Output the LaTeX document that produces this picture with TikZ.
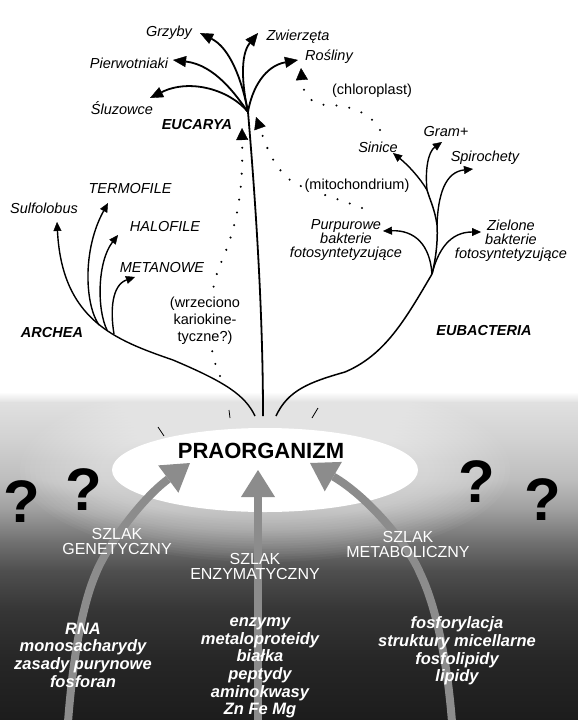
\documentclass[tikz,border=0pt]{standalone}
\usepackage{fontspec}
\setmainfont{Liberation Sans}
\usetikzlibrary{arrows.meta,shapes.geometric}
\definecolor{agray}{gray}{0.55}
\begin{document}
\begin{tikzpicture}[x=1pt,y=-1pt,
  lbl/.style={font=\fontsize{14.5}{14}\selectfont\itshape, inner sep=0pt, align=center},
  grp/.style={font=\fontsize{14.5}{15}\selectfont\bfseries\itshape, inner sep=0pt},
  paren/.style={font=\fontsize{14.5}{17}\selectfont, inner sep=1pt, align=center, fill=white},
  stem/.style={line width=1.5pt},
  euk/.style={line width=1.8pt, -{Triangle[length=13pt,width=11pt,line width=0.4pt]}},
  brn/.style={line width=1.4pt, -{Triangle[length=9pt,width=8pt,line width=0.4pt]}},
  dotln/.style={line width=2.3pt, line cap=round, dash pattern=on 0pt off 13pt, -{Triangle[length=12pt,width=12pt,line width=0.4pt]}},
  garrow/.style={draw=agray, line width=8pt, -{Triangle[length=27pt,width=34pt,line width=0pt]}},
  szlak/.style={text=white, font=\fontsize{16}{15}\selectfont, align=center, inner sep=0pt},
  items/.style={text=white, font=\fontsize{16.5}{17.6}\selectfont\bfseries\itshape, align=center, inner sep=0pt},
  qmark/.style={font=\fontsize{60}{60}\selectfont\bfseries, inner sep=0pt},
  ray/.style={line width=0.8pt}
]
\useasboundingbox (0,0) rectangle (578,720);
% ---------- background ----------
\fill[white] (0,0) rectangle (578,720);
\foreach \ya/\yb/\ca/\cb in {392/402/100/88, 402/440/88/82, 440/480/82/74, 480/510/74/62, 510/540/62/45, 540/570/45/31, 570/610/31/21, 610/660/21/15, 660/720/15/11}
  {\shade[top color=white!\ca!black, bottom color=white!\cb!black] (-1,\ya) rectangle (579,\yb+0.6);}
\foreach \i in {0,...,16}
  {\fill[white, opacity=0.035] (265,470) ellipse [x radius={(245-5*\i)*1pt}, y radius={(92-2.6*\i)*1pt}];}

% ---------- EUCARYA ----------
\coordinate (J) at (248,112);
\coordinate (tB) at (263,416);
\coordinate (tZw) at (258,33);
\coordinate (tGr) at (200,33);
\coordinate (tPi) at (173,60);
\coordinate (tSl) at (150,98);
\coordinate (tRo) at (298,60);
\draw[stem, line width=1.8pt] (tB) .. controls (263,330) and (258,230) .. (J);
\draw[euk] (J) .. controls (242,85) and (240,55) .. (tZw);
\draw[euk] (J) .. controls (242,80) and (230,48) .. (tGr);
\draw[euk] (J) .. controls (236,95) and (215,65) .. (tPi);
\draw[euk] (J) .. controls (230,90) and (190,78) .. (tSl);
\draw[euk] (J) .. controls (252,88) and (265,66) .. (tRo);

\node[lbl] (grzyby) at (169,33) {Grzyby};
\node[lbl] (zwierz) at (298,37) {Zwierzęta};
\node[lbl] (rosl) at (329,57) {Rośliny};
\node[lbl] (pierw) at (129,63) {Pierwotniaki};
\node[lbl] (sluz) at (122,108) {Śluzowce};
\node[grp] (euc) at (197,125) {EUCARYA};

% ---------- ARCHEA ----------
\coordinate (A0) at (255,416);
\coordinate (A1) at (173,360);
\coordinate (tSu) at (57,222);
\coordinate (T0) at (99,325);
\coordinate (tTe) at (108,203);
\coordinate (H0) at (107,330);
\coordinate (tHa) at (118,235);
\coordinate (N0) at (114,334);
\coordinate (tMe) at (135,277);
\draw[brn] (A0) .. controls (245,395) and (225,382) .. (A1) .. controls (115,340) and (62,320) .. (tSu);
\draw[brn] (T0) .. controls (85,305) and (82,250) .. (tTe);
\draw[brn] (H0) .. controls (97,310) and (97,262) .. (tHa);
\draw[brn] (N0) .. controls (110,310) and (112,285) .. (tMe);

\node[lbl] (sulf) at (44,208) {Sulfolobus};
\node[lbl] (term) at (130,189) {TERMOFILE};
\node[lbl] (halo) at (165,227) {HALOFILE};
\node[lbl] (meta) at (162,268) {METANOWE};
\node[grp] (arch) at (52,333) {ARCHEA};

% ---------- EUBACTERIA ----------
\coordinate (E0) at (276,416);
\coordinate (E1) at (345,372);
\coordinate (F1) at (432,274);
\coordinate (F2) at (437,225);
\coordinate (F3) at (427,190);
\coordinate (tPu) at (383,231);
\coordinate (tZi) at (481,232);
\coordinate (tSp) at (473,169);
\coordinate (tSi) at (393,153);
\coordinate (tGp) at (442,142);
\draw[stem] (E0) .. controls (288,390) and (310,382) .. (E1) .. controls (385,355) and (405,320) .. (F1);
\draw[stem] (F1) .. controls (436,258) and (438,240) .. (F2);
\draw[stem] (F2) .. controls (435,210) and (430,200) .. (F3);
\draw[brn] (F1) .. controls (430,245) and (415,230) .. (tPu);
\draw[brn] (F1) .. controls (438,250) and (450,232) .. (tZi);
\draw[brn] (F2) .. controls (438,195) and (445,172) .. (tSp);
\draw[brn] (F3) .. controls (420,178) and (408,165) .. (tSi);
\draw[brn] (F3) .. controls (425,170) and (428,152) .. (tGp);

% ---------- dotted (endosymbiosis) ----------
\coordinate (wS) at (220,376);
\coordinate (wM) at (220,265);
\coordinate (wE) at (242,128);
\draw[dotln] (wS) .. controls (207,350) and (206,300) .. (wM) .. controls (238,225) and (243,190) .. (wE);
\coordinate (mS) at (362,208);
\coordinate (mM) at (290,180);
\coordinate (mE) at (256,117);
\draw[dotln] (mS) .. controls (330,196) and (300,188) .. (mM) .. controls (272,165) and (266,145) .. (mE);
\coordinate (cS) at (380,130);
\coordinate (cM) at (330,105);
\coordinate (cE) at (301,68);
\draw[dotln] (cS) .. controls (370,112) and (350,106) .. (cM) .. controls (312,106) and (303,95) .. (cE);

\node[paren] (wrz) at (205,321) {(wrzeciono\\kariokine-\\tyczne?)};
\node[paren] (mito) at (357,186) {(mitochondrium)};
\node[paren] (chl) at (372,91) {(chloroplast)};

\node[lbl] (sin) at (378,147) {Sinice};
\node[lbl] (gram) at (446,132) {Gram+};
\node[lbl] (spir) at (485,158) {Spirochety};
\node[lbl] (purp) at (346,240) {Purpurowe\\bakterie\\fotosyntetyzujące};
\node[lbl] (ziel) at (511,241) {Zielone\\bakterie\\fotosyntetyzujące};
\node[grp] (eub) at (484,331) {EUBACTERIA};

% ---------- praorganizm ----------
\node[ellipse, fill=white, minimum width=306pt, minimum height=84pt, inner sep=0pt] (ell) at (265,470) {};
\node[font=\fontsize{22}{22}\selectfont\bfseries, inner sep=0pt] (pra) at (261,451) {PRAORGANIZM};
\draw[ray] (158,427) -- (164,436);
\draw[ray] (312,418) -- (318,408);
\draw[ray] (229,410) -- (230,418);

% ---------- pathways ----------
\coordinate (gS) at (68,722);
\coordinate (g2) at (96,573);
\coordinate (gE) at (190,463);
\draw[garrow] (gS) .. controls (72,670) and (80,610) .. (g2) .. controls (106,548) and (140,500) .. (gE);
\coordinate (zS) at (258,722);
\coordinate (zE) at (258,470);
\draw[garrow] (zS) -- (zE);
\coordinate (rS) at (452,722);
\coordinate (r2) at (420,573);
\coordinate (rE) at (310,463);
\draw[garrow] (rS) .. controls (448,670) and (438,610) .. (r2) .. controls (410,548) and (370,498) .. (rE);

\node[szlak] (sg) at (117,541) {SZLAK\\GENETYCZNY};
\node[szlak] (se) at (255,566) {SZLAK\\ENZYMATYCZNY};
\node[szlak] (sm) at (408,544) {SZLAK\\METABOLICZNY};
\node[items] (ig) at (83,655) {RNA\\monosacharydy\\zasady purynowe\\fosforan};
\node[items] (ie) at (260,668) {enzymy\\metaloproteidy\\białka\\peptydy\\aminokwasy\\Zn Fe Mg};
\node[items] (im) at (457,651) {fosforylacja\\struktury micellarne\\fosfolipidy\\lipidy};

\node[qmark] (q1) at (22,502) {?};
\node[qmark] (q2) at (84,490) {?};
\node[qmark] (q3) at (477,482) {?};
\node[qmark] (q4) at (543,500) {?};
\end{tikzpicture}
\end{document}
